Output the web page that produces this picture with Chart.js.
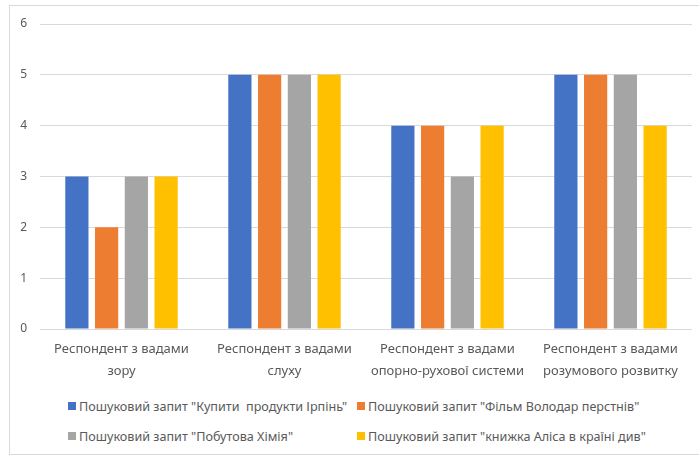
<!DOCTYPE html>
<html>
<head>
<meta charset="utf-8">
<script src="https://cdn.jsdelivr.net/npm/chart.js@4"></script>
<style>
    body { margin: 0; background: #fff; font-family: "Noto Sans", sans-serif; }
    #frame {
        position: absolute; left: 9px; top: 5px; width: 700px; height: 450px;
        border: 1px solid #d9d9d9; box-sizing: border-box;
    }
    #chart-wrap { position: absolute; left: 0; top: 0; width: 699px; height: 390px; }
    #legend {
        position: absolute; left: 68px; top: 396px;
        display: grid; grid-template-columns: 289px 330px; row-gap: 10px;
        font-size: 12.6px; color: #595959; white-space: pre;
    }
    .item { display: flex; align-items: center; height: 20px; }
    .box { width: 8px; height: 8px; margin-right: 3px; }
</style>
</head>
<body>
<div id="frame"></div>
<div id="chart-wrap"><canvas id="bar-chart" width="699" height="390"></canvas></div>
<div id="legend"></div>

<script>
const categories = [
    ["Респондент з вадами", "зору"],
    ["Респондент з вадами", "слуху"],
    ["Респондент з вадами", "опорно-рухової системи"],
    ["Респондент з вадами", "розумового розвитку"]
];

const seriesNames = [
    "Пошуковий запит \"Купити  продукти Ірпінь\"",
    "Пошуковий запит \"Фільм Володар перстнів\"",
    "Пошуковий запит \"Побутова Хімія\"",
    "Пошуковий запит \"книжка Аліса в країні див\""
];

const shopping = [3, 5, 4, 5];
const movie = [2, 5, 4, 5];
const chemicals = [3, 5, 3, 5];
const book = [3, 5, 4, 4];

const yTicks = [0, 1, 2, 3, 4, 5, 6];

const colors = ["#4472C4", "#ED7D31", "#A5A5A5", "#FFC000"];

function renderChart() {

    const ctx = document.getElementById("bar-chart").getContext("2d");
    const values = [shopping, movie, chemicals, book];

    const datasets = values.map((data, i) => ({
        label: seriesNames[i],
        data: data,
        backgroundColor: colors[i],
        categoryPercentage: 0.73,
        barPercentage: 0.78
    }));

    return new Chart(ctx, {
        type: "bar",
        data: { labels: categories, datasets: datasets },
        options: {
            responsive: false,
            animation: false,
            layout: { padding: { top: 24, right: 7, left: 0, bottom: 0 } },
            plugins: { legend: { display: false }, tooltip: { enabled: false } },
            scales: {
                x: {
                    grid: { display: false, drawTicks: false },
                    border: { display: false },
                    ticks: {
                        color: "#595959",
                        font: { family: "Noto Sans", size: 13, lineHeight: 1.65 },
                        padding: 10,
                        maxRotation: 0,
                        autoSkip: false
                    },
                    afterFit: scale => { scale.height = 61; }
                },
                y: {
                    min: yTicks[0],
                    max: yTicks[yTicks.length - 1],
                    grid: { color: "#d9d9d9", drawTicks: false },
                    border: { display: false },
                    ticks: {
                        stepSize: 1,
                        color: "#595959",
                        font: { family: "Noto Sans", size: 12 },
                        padding: 13
                    },
                    afterFit: scale => { scale.width = 40; }
                }
            }
        }
    });
}

function renderLegend() {

    const legend = document.getElementById("legend");
    let html = "";

    // Excel-style order: row 1 = series 1, 2; row 2 = series 3, 4
    seriesNames.forEach((name, i) => {
        html += `<div class="item"><span class="box" style="background:${colors[i]}"></span>${name}</div>`;
    });

    legend.innerHTML = html;
}

renderChart();
renderLegend();
</script>
</body>
</html>
